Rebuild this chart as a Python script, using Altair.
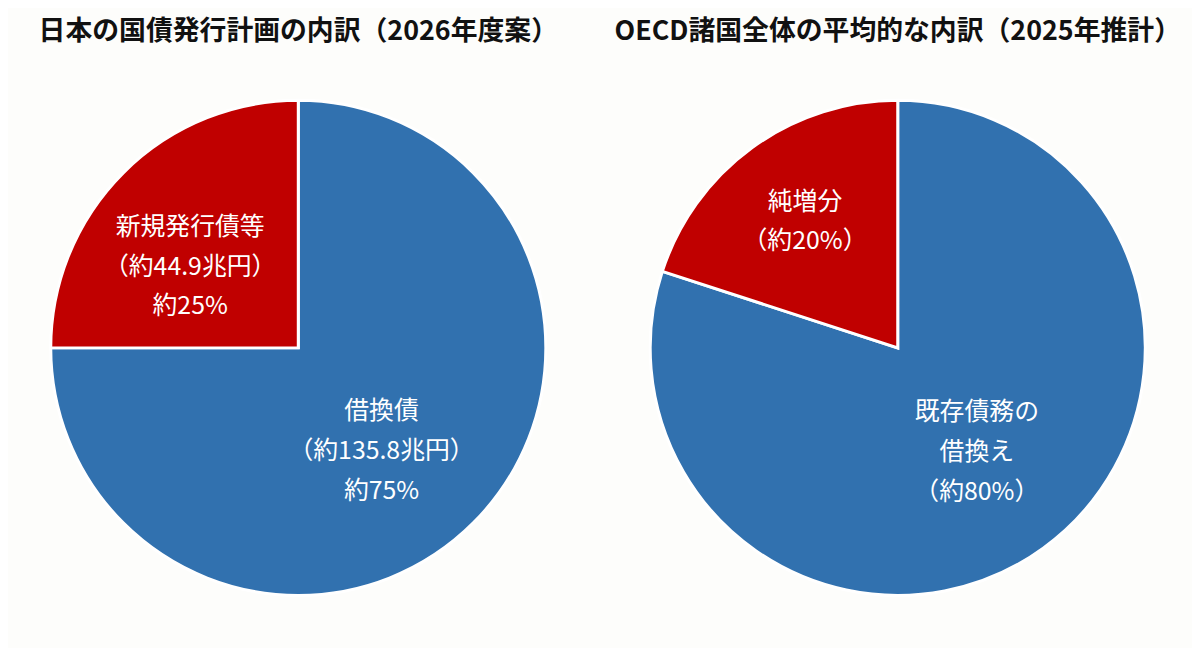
import altair as alt
import pandas as pd

FONT = "Noto Sans CJK JP"
BLUE = "#3171af"
RED = "#c00000"
BG = "#fdfdfb"

# 日本の国債発行計画（2026年度案）
japan_categories = ["借換債", "新規発行債等"]
japan_amounts = [135.8, 44.9]  # 兆円
japan_shares = [75, 25]

# OECD諸国全体（2025年推計）
oecd_categories = ["既存債務の借換え", "純増分"]
oecd_label_heads = ["既存債務の\n借換え", "純増分"]
oecd_shares = [80, 20]

kinds = ["refi", "new"]


def make_df(labels, shares):
    return pd.DataFrame({
        "idx": list(range(len(shares))),
        "kind": kinds,
        "share": shares,
        "label": labels,
    })


japan_df = make_df(
    [f"{c}\n（約{a}兆円）\n約{s}%" for c, a, s in zip(japan_categories, japan_amounts, japan_shares)],
    japan_shares,
)
oecd_df = make_df(
    [f"{h}\n（約{s}%）" for h, s in zip(oecd_label_heads, oecd_shares)],
    oecd_shares,
)


def pie(df, title, spots):
    base = alt.Chart(df).encode(
        theta=alt.Theta("share:Q", stack=True),
        order=alt.Order("idx:Q"),
    )
    arc = base.mark_arc(radius=249, stroke="white", strokeWidth=3).encode(
        color=alt.Color("kind:N", scale=alt.Scale(domain=kinds, range=[BLUE, RED]), legend=None)
    )
    layers = [arc]
    # one text layer per slice so each label can be nudged on its own
    # (multi-line text hangs from its first line, hence the negative dy)
    for i, (r, dx, dy) in enumerate(spots):
        layers.append(
            base.mark_text(
                radius=r, dx=dx, dy=dy, font=FONT, fontSize=25, color="white",
                lineBreak="\n", lineHeight=40, align="center", baseline="middle",
            ).encode(text=alt.condition(alt.datum.idx == i, "label:N", alt.value("")))
        )
    return alt.layer(*layers).properties(
        width=500, height=500,
        title=alt.Title(title, font=FONT, fontSize=27, fontWeight="bold",
                        color="#111111", offset=49, anchor="middle"),
    )


left = pie(japan_df, "日本の国債発行計画の内訳（2026年度案）", [(134, -11, -31), (134, -14, -27)])
right = pie(oecd_df, "OECD諸国全体の平均的な内訳（2025年推計）", [(132, 2, -42), (157, -1, -20)])

chart = alt.hconcat(left, right, spacing=103, bounds="flush").properties(
    padding={"left": 30, "top": 8, "right": 10, "bottom": 45},
    background=BG,
).configure_view(stroke=None)

chart.save("out.html", embed_options={"renderer": "svg", "actions": False})
